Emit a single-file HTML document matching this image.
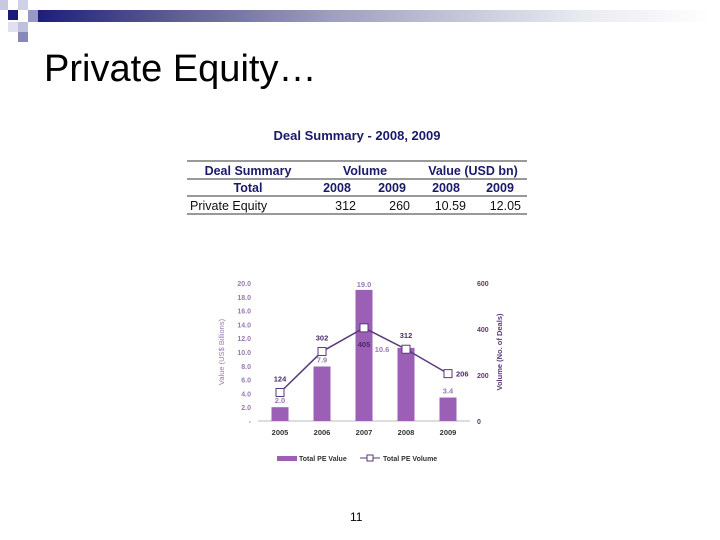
<!DOCTYPE html>
<html><head><meta charset="utf-8"><style>
body{margin:0;width:720px;height:540px;background:#fff;position:relative;overflow:hidden;font-family:"Liberation Sans",sans-serif}
.a{position:absolute}
</style></head><body>
<div class="a" style="left:30px;top:10px;width:680px;height:12px;background:linear-gradient(90deg,#1a1a7a,#5a5a90 20%,#a0a0c0 45%,#e8e8f0 80%,#fff)"></div>
<div class="a" style="left:8px;top:10px;width:10px;height:10px;background:#1a1a7a"></div>
<div class="a" style="left:0;top:0;width:8px;height:10px;background:#c8c8e0"></div>
<div class="a" style="left:18px;top:0;width:10px;height:10px;background:#d0d0e8"></div>
<div class="a" style="left:28px;top:10px;width:10px;height:12px;background:#9898c8"></div>
<div class="a" style="left:18px;top:22px;width:10px;height:10px;background:#c0c0dc"></div>
<div class="a" style="left:8px;top:22px;width:10px;height:10px;background:#e0e0f0"></div>
<div class="a" style="left:18px;top:32px;width:10px;height:10px;background:#8888b8"></div>
<div class="a" style="left:44px;top:48px;font-size:38px;color:#000">Private Equity…</div>
<div class="a" style="left:187px;top:128px;width:340px;text-align:center;font-size:13px;font-weight:bold;color:#1a1a6a">Deal Summary - 2008, 2009</div>
<svg class="a" style="left:0;top:0" width="720" height="540">
<g stroke="#999"><line x1="187" y1="161" x2="527" y2="161" stroke-width="2"/><line x1="187" y1="179" x2="527" y2="179" stroke-width="2"/><line x1="187" y1="196" x2="527" y2="196" stroke-width="2"/><line x1="187" y1="214" x2="527" y2="214" stroke-width="2"/></g>
<g font-size="12.5" font-weight="bold" fill="#1a1a6a" text-anchor="middle">
<text x="248" y="175">Deal Summary</text><text x="365" y="175">Volume</text><text x="473" y="175">Value (USD bn)</text>
<text x="248" y="192">Total</text><text x="337" y="192">2008</text><text x="392" y="192">2009</text><text x="446" y="192">2008</text><text x="500" y="192">2009</text></g>
<g font-size="12.5" fill="#111"><text x="190" y="210">Private Equity</text><g text-anchor="end"><text x="356" y="210">312</text><text x="410" y="210">260</text><text x="466" y="210">10.59</text><text x="521" y="210">12.05</text></g></g>
</svg>
<svg class="a" id="chart" style="left:0;top:0" width="720" height="540"></svg>
<div class="a" style="left:350px;top:510px;font-size:12px">11</div>
<script>
const years=["2005","2006","2007","2008","2009"];
const values=[2.0,7.9,19.0,10.6,3.4];
const volumes=[124,302,405,312,206];
const leftTicks=["-","2.0","4.0","6.0","8.0","10.0","12.0","14.0","16.0","18.0","20.0"];
const rightTicks=["0","200","400","600"];
const NS="http://www.w3.org/2000/svg",svg=document.getElementById('chart');
const y0=421,y1=283;
const yv=v=>y0-(v/20)*(y0-y1), yn=v=>y0-(v/600)*(y0-y1), xc=i=>280+i*42;
function mk(t,a,txt){const e=document.createElementNS(NS,t);for(const k in a)e.setAttribute(k,a[k]);if(txt!=null)e.textContent=txt;svg.appendChild(e);return e;}
let e=mk('line',{x1:258,y1:y0,x2:470,y2:y0,stroke:'#bbb'});

leftTicks.forEach((t,i)=>{const el=mk('text',{x:251,y:yv(i*2)+3,'font-size':7,fill:'#9a7ab0','text-anchor':'end','font-weight':'bold'},t);
});
rightTicks.forEach((t,i)=>{const el=mk('text',{x:477,y:yn(i*200)+3,'font-size':7,fill:'#5a3a7a','font-weight':'bold'},t);
});
e=mk('text',{transform:'translate(224,352) rotate(-90)','font-size':7.5,fill:'#9a7ab0','text-anchor':'middle'},'Value (US$ Billions)');

e=mk('text',{transform:'translate(502,352) rotate(-90)','font-size':7.5,fill:'#5a3a7a','text-anchor':'middle','font-weight':'bold'},'Volume (No. of Deals)');

years.forEach((y,i)=>{
 const b=mk('rect',{x:xc(i)-8.5,y:yv(values[i]),width:17,height:y0-yv(values[i]),fill:'#9b5fb5'});
 
 const l=mk('text',{x:xc(i)+(i==3?-8:0)+(i==2?8:0),y:yv(values[i])-(i==2?3:4),'font-size':7.5,fill:'#9a7ab0','text-anchor':'middle','font-weight':'bold'},values[i].toFixed(1));
 if(i==3){l.setAttribute('x',xc(i)-24);l.setAttribute('y',yv(values[i])+4);}
 if(i==2){l.setAttribute('x',xc(i));l.setAttribute('y',yv(values[i])-3);}
 
 const t=mk('text',{x:xc(i),y:y0+14,'font-size':7.5,fill:'#333','text-anchor':'middle','font-weight':'bold'},y);
 
});
e=mk('polyline',{points:volumes.map((v,i)=>xc(i)+','+yn(v)).join(' '),fill:'none',stroke:'#5a3a7a','stroke-width':1.5});

volumes.forEach((v,i)=>{
 const m=mk('rect',{x:xc(i)-4,y:yn(v)-4,width:8,height:8,fill:'#fff',stroke:'#5a3a7a'});
 
 let lx=xc(i)+(i==4?8:0),ly=yn(v)-11,anc=i==4?'start':'middle';
 if(i==4){ly=yn(v)+3;} if(i==2){ly=yn(v)+19;}
 const t=mk('text',{x:lx,y:ly,'font-size':7.5,fill:'#4a2a6a','text-anchor':anc,'font-weight':'bold'},v);
 
});
e=mk('rect',{x:277,y:456,width:20,height:5,fill:'#9b5fb5'});
e=mk('text',{x:299,y:461,'font-size':7,fill:'#333','font-weight':'bold'},'Total PE Value');
e=mk('line',{x1:360,y1:458,x2:380,y2:458,stroke:'#5a3a7a'});
e=mk('rect',{x:367,y:455,width:6,height:6,fill:'#fff',stroke:'#5a3a7a'});
e=mk('text',{x:383,y:461,'font-size':7,fill:'#333','font-weight':'bold'},'Total PE Volume');
</script>
</body></html>
